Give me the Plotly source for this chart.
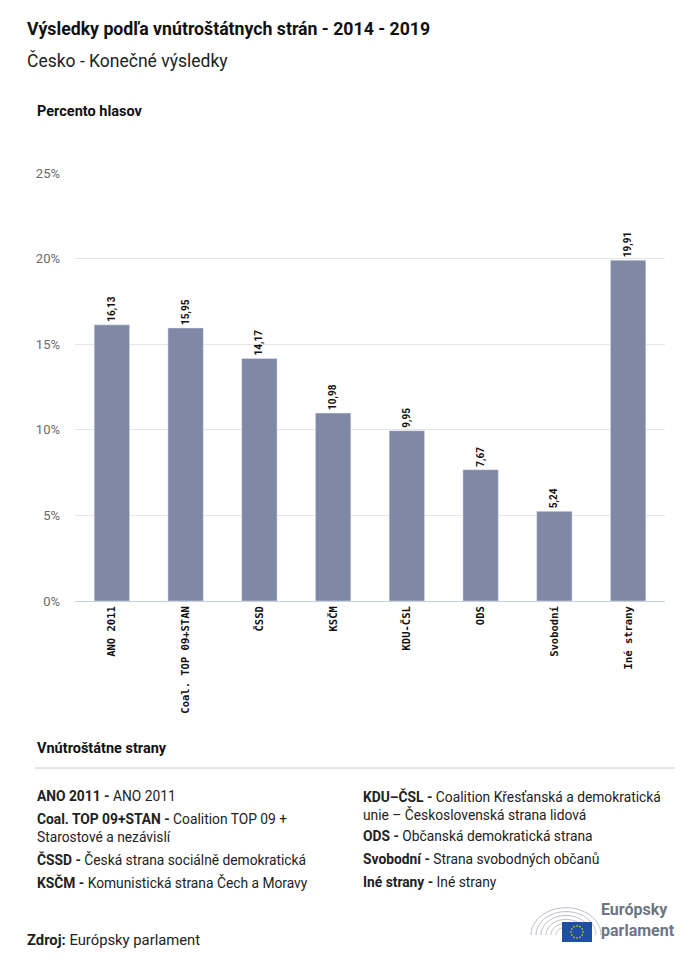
import plotly.graph_objects as go
import math

categories = ["ANO 2011", "Coal. TOP 09+STAN", "ČSSD", "KSČM", "KDU-ČSL", "ODS", "Svobodní", "Iné strany"]
values = [16.13, 15.95, 14.17, 10.98, 9.95, 7.67, 5.24, 19.91]
tick_vals = [0, 5, 10, 15, 20, 25]
tick_text = ["0%", "5%", "10%", "15%", "20%", "25%"]

legend_left = [
    ("ANO 2011", "ANO 2011"),
    ("Coal. TOP 09+STAN", "Coalition TOP 09 +<br>Starostové a nezávislí"),
    ("ČSSD", "Česká strana sociálně demokratická"),
    ("KSČM", "Komunistická strana Čech a Moravy"),
]
legend_right = [
    ("KDU–ČSL", "Coalition Křesťanská a demokratická<br>unie – Československá strana lidová"),
    ("ODS", "Občanská demokratická strana"),
    ("Svobodní", "Strana svobodných občanů"),
    ("Iné strany", "Iné strany"),
]

W, H = 700, 964
OFF = 8  # page body margin
FONT = "Roboto"
BAR = "#7f88a5"

PL, PR, PT, PB = 75, 665, 173, 601
L, T = PL - OFF, PT - OFF
R = W - (PR - OFF)
B = H - (PB - OFF)
pw, ph = W - L - R, H - T - B

fig = go.Figure()
fig.add_trace(go.Bar(
    x=categories, y=values,
    marker_color=BAR,
    text=[f"<b>{v:.2f}</b>".replace(".", ",") for v in values],
    textposition="outside", textangle=-90,
    textfont=dict(family="Roboto", size=10, color="#111"),
    cliponaxis=False, width=0.48,
))

fig.update_layout(
    width=W, height=H,
    margin=dict(l=L, r=R, t=T, b=B),
    paper_bgcolor="white", plot_bgcolor="white",
    showlegend=False,
    font=dict(family=FONT),
    xaxis=dict(tickangle=-90, tickvals=categories, ticktext=[f"<b>{c}</b>" for c in categories],
               tickfont=dict(family="DejaVu Sans Mono", size=10.5, color="#111"),
               showline=True, linecolor="#c5d0e6", linewidth=1, ticks="", showgrid=False),
    yaxis=dict(range=[0, 25], tickvals=tick_vals, ticktext=tick_text,
               tickfont=dict(family=FONT, size=13, color="#6b6b6b"),
               showgrid=True, gridcolor="#e6e6e6", zeroline=False, ticks="", ticklen=0,
               ticklabelstandoff=14),
)

def sx(px): return (px - OFF - L) / pw
def sy(py): return 1 - (py - OFF - T) / ph

ann = []
def text(x, y, s, size, color="#222", anchor="left", yanchor="middle"):
    ann.append(dict(xref="paper", yref="paper", x=sx(x), y=sy(y), text=s,
                    showarrow=False, xanchor=anchor, yanchor=yanchor, align="left",
                    font=dict(family=FONT, size=size, color=color)))

text(25, 29, "<b>Výsledky podľa vnútroštátnych strán - 2014 - 2019</b>", 17.7, "#111")
text(25, 60, "Česko - Konečné výsledky", 17.5, "#222")
text(35, 111, "<b>Percento hlasov</b>", 14.5, "#111")
text(35, 748, "<b>Vnútroštátne strany</b>", 14.5, "#111")

for i, (k, v) in enumerate(legend_left):
    ys = [795, 818, 858, 881][i]
    text(35, ys - 9.5, f"<b>{k} -</b> {v}", 13.8, "#222", yanchor="top")
for i, (k, v) in enumerate(legend_right):
    ys = [795, 835, 858, 881][i]
    text(361, ys - 9.5, f"<b>{k} -</b> {v}", 13.8, "#222", yanchor="top")

text(25, 940, "<b>Zdroj:</b> Európsky parlament", 14.8, "#222")
text(599, 920, "<b>Európsky<br>parlament</b>", 16, "#6d7581")
fig.update_layout(annotations=ann)

shapes = []
shapes.append(dict(type="line", xref="paper", yref="paper", x0=sx(35), x1=sx(675), y0=sy(768), y1=sy(768),
                   line=dict(color="#cccccc", width=1)))
cx, cy = 566, 935
for r in [10, 15, 20, 25, 30, 35]:
    pts = []
    for j in range(0, 41):
        t = math.pi * j / 40
        pts.append((cx + r * math.cos(t), cy - r * math.sin(t) * 0.78))
    path = "M " + " L ".join(f"{sx(p[0])},{sy(p[1])}" for p in pts)
    shapes.append(dict(type="path", xref="paper", yref="paper", path=path,
                       line=dict(color="#b9bec6", width=1)))
shapes.append(dict(type="rect", xref="paper", yref="paper", x0=sx(562), x1=sx(592), y0=sy(922), y1=sy(942),
                   fillcolor="#1f4fa3", line=dict(width=0)))
for j in range(12):
    t = 2 * math.pi * j / 12
    x = 577 + 6 * math.cos(t)
    y = 932 + 6 * math.sin(t)
    shapes.append(dict(type="circle", xref="paper", yref="paper", x0=sx(x - 0.8), x1=sx(x + 0.8),
                       y0=sy(y - 0.8), y1=sy(y + 0.8), fillcolor="#ffdd00", line=dict(width=0)))
fig.update_layout(shapes=shapes)

fig.write_html("out.html")
